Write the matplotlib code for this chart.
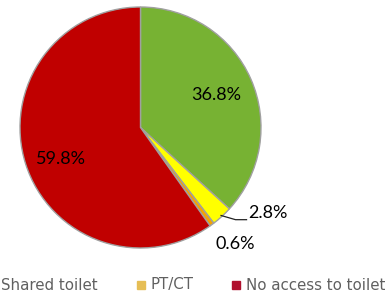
import numpy as np
import matplotlib
matplotlib.use("Agg")
import matplotlib.pyplot as plt
from matplotlib.patches import Rectangle

# Pie data (clockwise from top)
shares = [36.8, 2.8, 0.6, 59.8]
slice_colors = ["#77B233", "#FFFF00", "#F5A300", "#C00000"]

# Legend (the first entry is cut off at the left edge of the original)
legend_labels = ["Shared toilet", "PT/CT", "No access to toilet"]
legend_colors = ["#F2E24A", "#E6BE55", "#B0102E"]

fig = plt.figure(figsize=(3.87, 2.97), dpi=100)
W, H = 387, 297
ax = fig.add_axes([20 / W, (H - 248) / H, 241 / W, 241 / H])

wedges, _ = ax.pie(shares, colors=slice_colors, startangle=90, counterclock=False,
                   radius=1, wedgeprops=dict(edgecolor="#A0A0A0", linewidth=1.0))
ax.set_xlim(-1, 1)
ax.set_ylim(-1, 1)
ax.set_aspect("equal")

lab_font = dict(family="Lato", fontsize=13, color="black")

# big slices: labels inside
ax.text(0.63, 0.27, f"{shares[0]}%", ha="center", va="center", **lab_font)
ax.text(-0.66, -0.26, f"{shares[3]}%", ha="center", va="center", **lab_font)

# small slices: labels outside, one with a leader line
w = wedges[1]
mid = np.deg2rad((w.theta1 + w.theta2) / 2)
x0, y0 = np.cos(mid) * 0.99, np.sin(mid) * 0.99
ax.plot([x0, x0 + 0.12, 0.88], [y0, -0.765, -0.765], color="#222222", lw=0.9,
        clip_on=False)
ax.text(0.89, -0.71, f"{shares[1]}%", ha="left", va="center", **lab_font)
ax.text(0.79, -0.965, f"{shares[2]}%", ha="center", va="center", **lab_font)

# legend row along the bottom
leg_y = 1 - 285 / H
text_x = [1, 150, 246]
box_x = [-14, 137, 232]
for lx, bx, lab, col in zip(text_x, box_x, legend_labels, legend_colors):
    fig.patches.append(Rectangle((bx / W, leg_y - 4 / H), 8 / W, 8 / H,
                                 transform=fig.transFigure, color=col))
    fig.text(lx / W, leg_y, lab, ha="left", va="center", fontsize=10.8,
             family="DejaVu Sans", color="#606060")

fig.savefig("out.png", dpi=100)
